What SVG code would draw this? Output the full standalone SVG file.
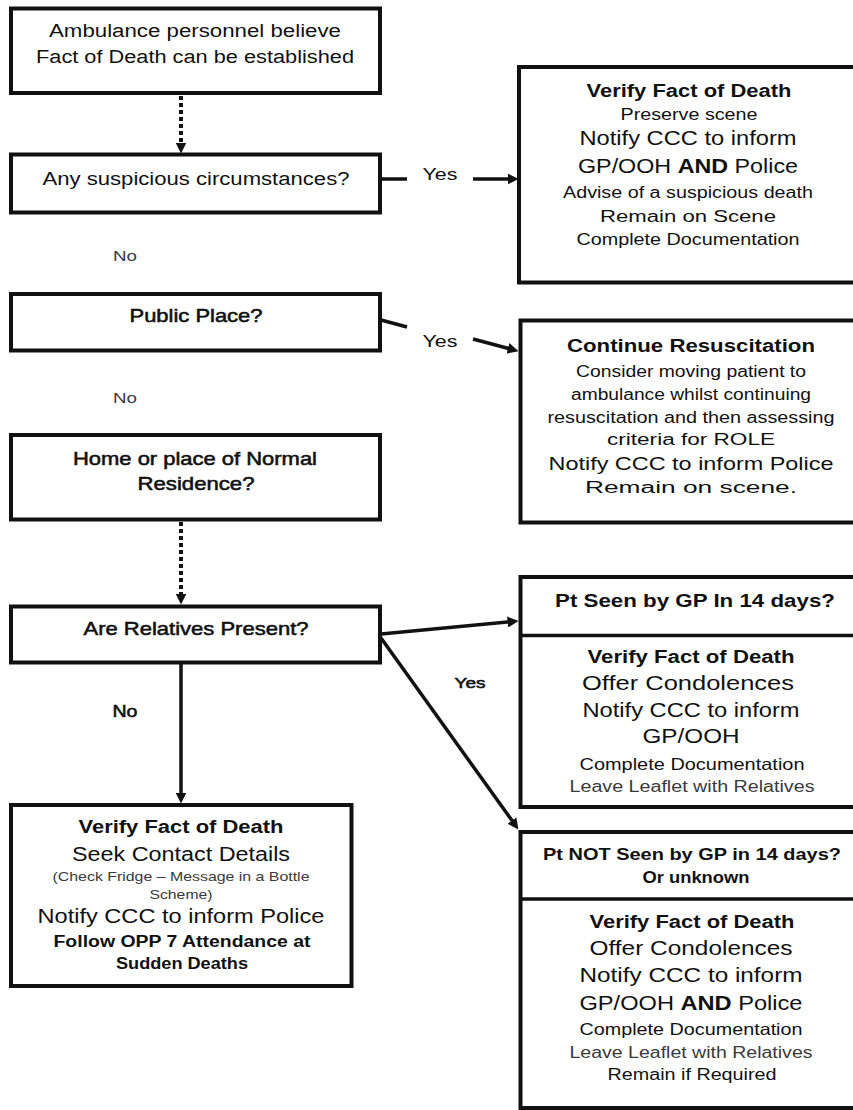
<svg xmlns="http://www.w3.org/2000/svg" width="853" height="1110" viewBox="0 0 853 1110">
<style>
.box{fill:#fff;stroke:#111;stroke-width:4}
.div{stroke:#111;stroke-width:3.5}
.t{font-family:"Liberation Sans",Arial,sans-serif;text-anchor:middle;fill:#111}
.b{font-weight:bold}
.sb{stroke:#111;stroke-width:0.55}
.g{fill:#3a3a3a}
.ln{fill:none;stroke:#111;stroke-width:3.5}
.dot{fill:none;stroke:#111;stroke-width:4;stroke-dasharray:4 3}
</style>
<defs>
<marker id="ah" markerUnits="userSpaceOnUse" markerWidth="11" markerHeight="11" refX="4" refY="5" orient="auto" viewBox="0 0 10 10">
<path d="M0,0 L10,5 L0,10 z" fill="#111"/>
</marker>
</defs>

<g id="connectors">
<line class="dot" x1="181" y1="96" x2="181" y2="147" marker-end="url(#ah)"/>
<line class="ln" x1="380" y1="179" x2="407" y2="179"/>
<line class="ln" x1="473" y1="179" x2="512" y2="179" marker-end="url(#ah)"/>
<line class="ln" x1="381" y1="320" x2="407" y2="327"/>
<line class="ln" x1="473" y1="339" x2="512.2" y2="349.5" marker-end="url(#ah)"/>
<line class="dot" x1="181" y1="522" x2="181" y2="598" marker-end="url(#ah)"/>
<line class="ln" x1="381" y1="634" x2="512" y2="621.6" marker-end="url(#ah)"/>
<line class="ln" x1="381" y1="638" x2="514.5" y2="824.1" marker-end="url(#ah)"/>
<line class="ln" x1="181" y1="663" x2="181" y2="797" marker-end="url(#ah)"/>
<text class="t g" x="125" y="261" font-size="15.5" textLength="24" lengthAdjust="spacingAndGlyphs">No</text>
<text class="t" x="440" y="180" font-size="16.5" textLength="35" lengthAdjust="spacingAndGlyphs">Yes</text>
<text class="t" x="440" y="347" font-size="16.5" textLength="35" lengthAdjust="spacingAndGlyphs">Yes</text>
<text class="t g" x="125" y="403" font-size="15.5" textLength="24" lengthAdjust="spacingAndGlyphs">No</text>
<text class="t sb" x="470" y="688" font-size="15" textLength="31" lengthAdjust="spacingAndGlyphs">Yes</text>
<text class="t sb" x="125" y="717" font-size="16" textLength="25" lengthAdjust="spacingAndGlyphs">No</text>
</g>

<g id="n-start">
<rect class="box" x="11" y="8.5" width="369" height="84.5"/>
<text class="t" x="195" y="37" font-size="18" textLength="292" lengthAdjust="spacingAndGlyphs">Ambulance personnel believe</text>
<text class="t" x="195" y="63" font-size="18" textLength="318" lengthAdjust="spacingAndGlyphs">Fact of Death can be established</text>
</g>

<g id="n-suspicious">
<rect class="box" x="11" y="154.5" width="369" height="58"/>
<text class="t" x="196" y="185" font-size="18" textLength="307" lengthAdjust="spacingAndGlyphs">Any suspicious circumstances?</text>
</g>

<g id="n-verify-suspicious">
<rect class="box" x="519" y="67" width="360" height="215.5"/>
<text class="t b" x="689" y="97" font-size="18" textLength="205" lengthAdjust="spacingAndGlyphs">Verify Fact of Death</text>
<text class="t" x="689" y="120" font-size="16" textLength="137" lengthAdjust="spacingAndGlyphs">Preserve scene</text>
<text class="t" x="688" y="145" font-size="19.5" textLength="217" lengthAdjust="spacingAndGlyphs">Notify CCC to inform</text>
<text class="t" x="688" y="173" font-size="19.5" textLength="220" lengthAdjust="spacingAndGlyphs">GP/OOH <tspan class="b">AND</tspan> Police</text>
<text class="t" x="688" y="198" font-size="16" textLength="250" lengthAdjust="spacingAndGlyphs">Advise of a suspicious death</text>
<text class="t" x="688" y="222" font-size="16" textLength="176" lengthAdjust="spacingAndGlyphs">Remain on Scene</text>
<text class="t" x="688" y="245" font-size="16" textLength="223" lengthAdjust="spacingAndGlyphs">Complete Documentation</text>
</g>

<g id="n-public">
<rect class="box" x="11" y="294" width="369" height="56.5"/>
<text class="t sb" x="196" y="322" font-size="18.5" textLength="133" lengthAdjust="spacingAndGlyphs">Public Place?</text>
</g>

<g id="n-resus">
<rect class="box" x="520.5" y="320.5" width="360" height="202"/>
<text class="t b" x="691" y="352" font-size="18" textLength="248" lengthAdjust="spacingAndGlyphs">Continue Resuscitation</text>
<text class="t" x="691" y="377" font-size="16" textLength="230" lengthAdjust="spacingAndGlyphs">Consider moving patient to</text>
<text class="t" x="691" y="400" font-size="16" textLength="240" lengthAdjust="spacingAndGlyphs">ambulance whilst continuing</text>
<text class="t" x="691" y="423" font-size="16" textLength="287" lengthAdjust="spacingAndGlyphs">resuscitation and then assessing</text>
<text class="t" x="691" y="445" font-size="16" textLength="168" lengthAdjust="spacingAndGlyphs">criteria for ROLE</text>
<text class="t" x="691" y="470" font-size="19" textLength="285" lengthAdjust="spacingAndGlyphs">Notify CCC to inform Police</text>
<text class="t" x="691" y="493" font-size="16" textLength="212" lengthAdjust="spacingAndGlyphs">Remain on scene.</text>
</g>

<g id="n-home">
<rect class="box" x="11" y="435" width="369" height="84.5"/>
<text class="t sb" x="195" y="465" font-size="18.5" textLength="244" lengthAdjust="spacingAndGlyphs">Home or place of Normal</text>
<text class="t sb" x="196" y="490" font-size="18.5" textLength="117" lengthAdjust="spacingAndGlyphs">Residence?</text>
</g>

<g id="n-relatives">
<rect class="box" x="11" y="606.5" width="369" height="56"/>
<text class="t sb" x="196" y="635" font-size="18.5" textLength="225" lengthAdjust="spacingAndGlyphs">Are Relatives Present?</text>
</g>

<g id="n-seen">
<rect class="box" x="520.5" y="577" width="360" height="230"/>
<line class="div" x1="520.5" y1="635.5" x2="880" y2="635.5"/>
<text class="t b" x="695" y="607" font-size="17.5" textLength="280" lengthAdjust="spacingAndGlyphs">Pt Seen by GP In 14 days?</text>
<text class="t b" x="691" y="663" font-size="18" textLength="207" lengthAdjust="spacingAndGlyphs">Verify Fact of Death</text>
<text class="t" x="688" y="690" font-size="20" textLength="212" lengthAdjust="spacingAndGlyphs">Offer Condolences</text>
<text class="t" x="691" y="717" font-size="19.5" textLength="217" lengthAdjust="spacingAndGlyphs">Notify CCC to inform</text>
<text class="t" x="691" y="743" font-size="20" textLength="97" lengthAdjust="spacingAndGlyphs">GP/OOH</text>
<text class="t" x="692" y="770" font-size="16.5" textLength="225" lengthAdjust="spacingAndGlyphs">Complete Documentation</text>
<text class="t g" x="692" y="792" font-size="16" textLength="245" lengthAdjust="spacingAndGlyphs">Leave Leaflet with Relatives</text>
</g>

<g id="n-notseen">
<rect class="box" x="520.5" y="832" width="360" height="276"/>
<line class="div" x1="520.5" y1="899" x2="880" y2="899"/>
<text class="t b" x="692" y="860" font-size="16.5" textLength="298" lengthAdjust="spacingAndGlyphs">Pt NOT Seen by GP in 14 days?</text>
<text class="t b" x="696" y="883" font-size="16" textLength="107" lengthAdjust="spacingAndGlyphs">Or unknown</text>
<text class="t b" x="692" y="928" font-size="18" textLength="205" lengthAdjust="spacingAndGlyphs">Verify Fact of Death</text>
<text class="t" x="691" y="955" font-size="20" textLength="203" lengthAdjust="spacingAndGlyphs">Offer Condolences</text>
<text class="t" x="691" y="982" font-size="20" textLength="223" lengthAdjust="spacingAndGlyphs">Notify CCC to inform</text>
<text class="t" x="691" y="1010" font-size="19.5" textLength="223" lengthAdjust="spacingAndGlyphs">GP/OOH <tspan class="b">AND</tspan> Police</text>
<text class="t" x="691" y="1035" font-size="16.5" textLength="223" lengthAdjust="spacingAndGlyphs">Complete Documentation</text>
<text class="t g" x="691" y="1058" font-size="16" textLength="243" lengthAdjust="spacingAndGlyphs">Leave Leaflet with Relatives</text>
<text class="t" x="692" y="1080" font-size="16" textLength="169" lengthAdjust="spacingAndGlyphs">Remain if Required</text>
</g>

<g id="n-norelatives">
<rect class="box" x="11" y="805" width="340.5" height="181"/>
<text class="t b" x="181" y="833" font-size="18" textLength="205" lengthAdjust="spacingAndGlyphs">Verify Fact of Death</text>
<text class="t" x="181" y="861" font-size="19.5" textLength="218" lengthAdjust="spacingAndGlyphs">Seek Contact Details</text>
<text class="t g" x="181" y="881" font-size="13" textLength="257" lengthAdjust="spacingAndGlyphs">(Check Fridge – Message in a Bottle</text>
<text class="t g" x="181" y="899" font-size="13" textLength="63" lengthAdjust="spacingAndGlyphs">Scheme)</text>
<text class="t" x="181" y="923" font-size="19.5" textLength="287" lengthAdjust="spacingAndGlyphs">Notify CCC to inform Police</text>
<text class="t b" x="182" y="947" font-size="16" textLength="257" lengthAdjust="spacingAndGlyphs">Follow OPP 7 Attendance at</text>
<text class="t b" x="182" y="969" font-size="16" textLength="132" lengthAdjust="spacingAndGlyphs">Sudden Deaths</text>
</g>
</svg>
